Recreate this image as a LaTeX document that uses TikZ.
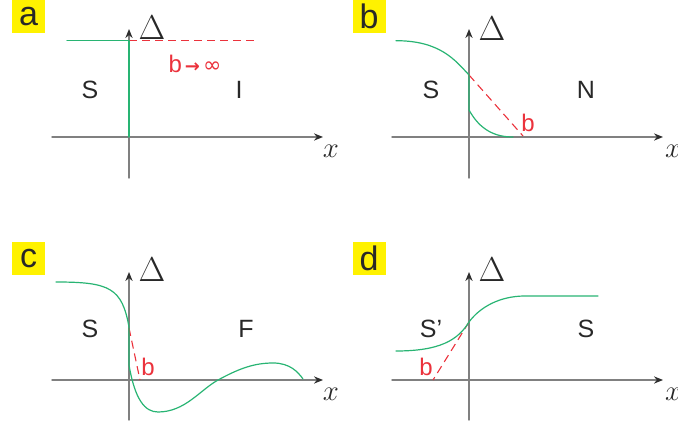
\documentclass[tikz,border=0pt]{standalone}
\usepackage{fontspec}
\setmainfont{Liberation Sans}
\newfontfamily\symbfont{DejaVu Sans}
\usepackage{xcolor}
\usetikzlibrary{arrows.meta}
\definecolor{paneyellow}{RGB}{255,242,0}
\definecolor{curvegreen}{RGB}{40,180,115}
\definecolor{extred}{RGB}{235,50,60}
\definecolor{axisgray}{RGB}{128,128,128}
\definecolor{tipgray}{RGB}{45,45,45}
\definecolor{textdark}{RGB}{40,40,40}
\tikzset{
  every picture/.style={line join=round, line cap=round, >=Stealth},
  axis/.style={draw=axisgray, line width=0.7pt, -{Stealth[length=4.5pt,width=3.6pt,color=tipgray]}},
  axisline/.style={draw=axisgray, line width=0.7pt},
  curve/.style={draw=curvegreen, line width=0.6pt},
  extline/.style={draw=extred, line width=0.55pt, dash pattern=on 4pt off 2.5pt, line cap=butt},
  panel/.style={fill=paneyellow, text=textdark, minimum width=16.5pt, minimum height=16.5pt,
    inner sep=0pt, font=\fontsize{17}{19}\selectfont},
  region/.style={text=textdark, anchor=base, inner sep=0pt, font=\fontsize{12.5}{14}\selectfont},
  redlbl/.style={text=extred, anchor=base, inner sep=0pt, font=\fontsize{12}{14}\selectfont},
  dlbl/.style={text=textdark, anchor=base, inner sep=0pt, font=\fontsize{18}{20}\selectfont},
  xlbl/.style={text=textdark, anchor=base, inner sep=0pt, font=\fontsize{14}{16}\selectfont},
}

\begin{document}
\begin{tikzpicture}[x=0.5pt,y=-0.5pt]
\useasboundingbox (0,0) rectangle (678,426);

% panel a
\draw[axisline](129,178)--(129,137);
\draw[axis](129,137)--(129,29);
\draw[axis](52,137)--(323,137);
\draw[extline](129,40.7)--(258,40.7);
\draw[curve](67,40.7)--(129,40.7)--(129,137);
\node[panel] (pa) at (28.5,16.5) {a};
\node[dlbl] (da) at (152,40) {$\Delta$};
\node[xlbl] (xa) at (331,158) {$x$};
\node[redlbl] (ba) at (195,73) {b{\symbfont\bfseries\fontsize{9}{10}\selectfont\,→\,}{\symbfont\fontsize{11}{12}\selectfont ∞}};
\node[region] (sa) at (90,99) {S};
\node[region] (ia) at (239,99) {I};

% panel b
\begin{scope}[shift={(340,0)}]
\draw[axisline](129,178)--(129,137);
\draw[axis](129,137)--(129,29);
\draw[axis](52,137)--(323,137);
\draw[extline](129,75)--(183,136);
\draw[curve](56,40.7) .. controls (100,40.7) and (115,60) .. (129,75)--(129,110)
  .. controls (140,130) and (155,137) .. (173,137);
\node[panel] (pb) at (29,16.5) {b};
\node[dlbl] (db) at (152,40.7) {$\Delta$};
\node[xlbl] (xb) at (333,158) {$x$};
\node[redlbl] (bb) at (188,132) {b};
\node[region] (sb) at (91,99) {S};
\node[region] (nb) at (246,99) {N};
\end{scope}

% panel c
\begin{scope}[shift={(0,243)}]
\draw[axisline](129,177)--(129,137);
\draw[axis](129,137)--(129,29);
\draw[axis](52,137)--(323,137);
\draw[extline](129,85)--(140,137);
\draw[curve](56,39) .. controls (110,39) and (122,45) .. (129,84)--(129,122)
  .. controls (135,157) and (145,169) .. (158,169)
  .. controls (185,169) and (200,147) .. (218,137)
  .. controls (240,125) and (255,120) .. (273,120)
  .. controls (290,120) and (298,129) .. (303,136);
\node[panel] (pc) at (28.5,15.5) {c};
\node[dlbl] (dc) at (152,39) {$\Delta$};
\node[xlbl] (xc) at (331,157) {$x$};
\node[redlbl] (bc) at (148,132) {b};
\node[region] (sc) at (90,94) {S};
\node[region] (fc) at (246,94) {F};
\end{scope}

% panel d
\begin{scope}[shift={(340,243)}]
\draw[axisline](129,177)--(129,137);
\draw[axis](129,137)--(129,29);
\draw[axis](52,137)--(323,137);
\draw[extline](129,79)--(93,137);
\draw[curve](56,108) .. controls (100,108) and (118,97) .. (129,79)
  .. controls (140,64) and (160,53) .. (185,53)--(258,53);
\node[panel] (pd) at (29,15.5) {d};
\node[dlbl] (dd) at (152,39) {$\Delta$};
\node[xlbl] (xd) at (333,157) {$x$};
\node[redlbl] (bd) at (86,132) {b};
\node[region] (sd) at (91,94) {S’};
\node[region] (s2d) at (246,94) {S};
\end{scope}
\end{tikzpicture}
\end{document}
